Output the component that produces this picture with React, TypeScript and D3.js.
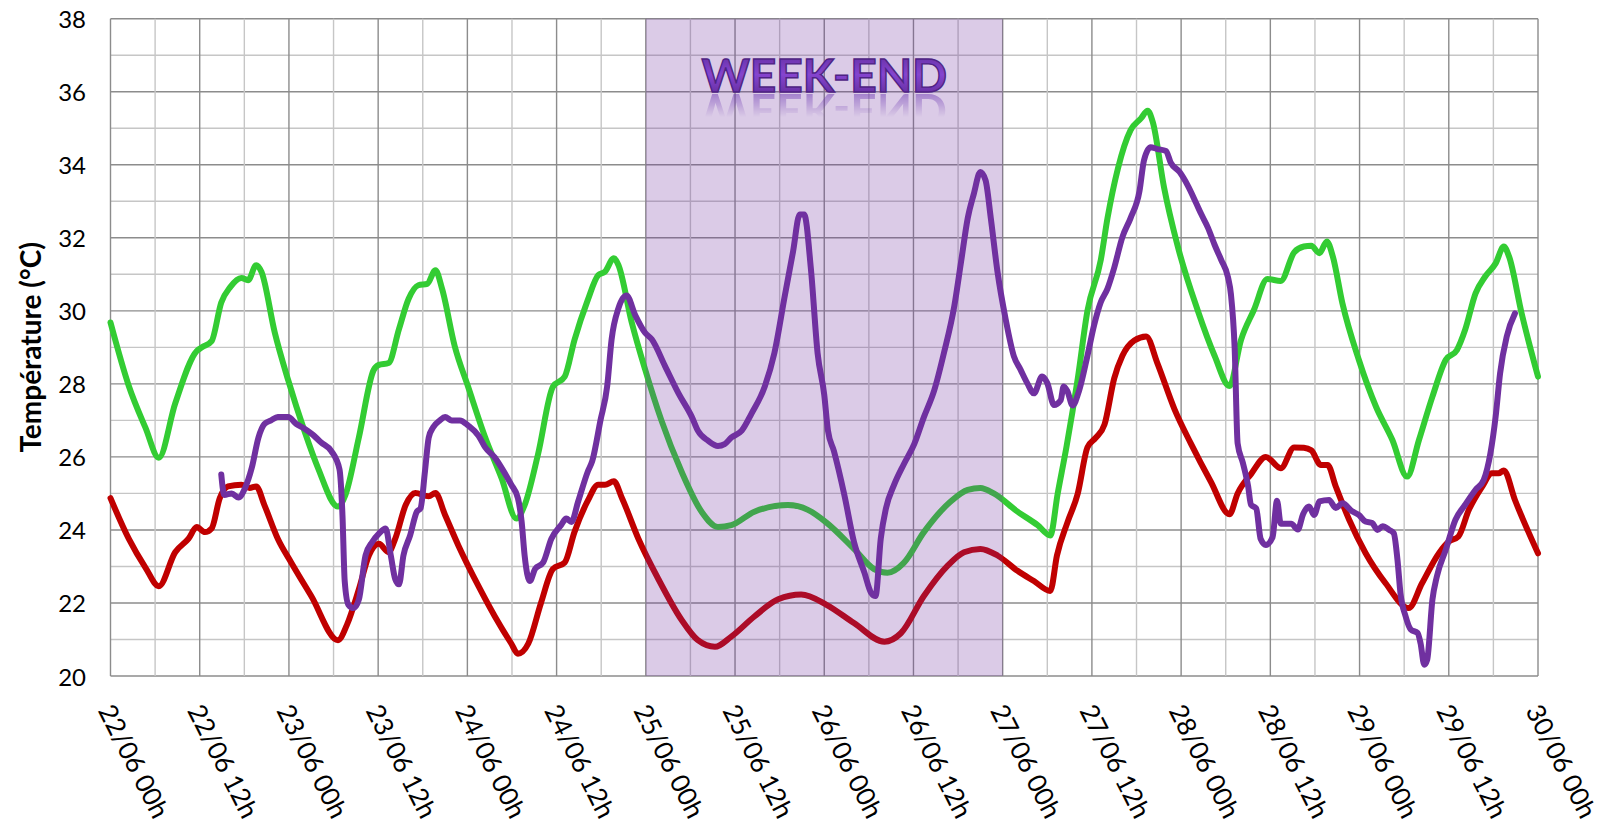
import React from "react";
import * as d3 from "d3";

// hours since 22/06 00h, temperature °C
const greenSeries: [number, number][] = [
  [0, 29.68], [2.45, 27.95], [4.7, 26.8], [6.5, 25.98], [8.7, 27.46], [11.6, 28.9], [12.3, 29.0], [13.6, 29.17],
  [14.9, 30.23], [16.1, 30.65], [17.6, 30.9], [18.5, 30.84], [19.6, 31.25], [20.3, 31.07], [22.1, 29.4], [23.9, 28.1],
  [26.1, 26.7], [27.9, 25.7], [30.6, 24.64], [31.6, 24.96], [33.4, 26.53], [35.4, 28.38], [36.1, 28.52], [37.4, 28.57],
  [38.8, 29.5], [40.1, 30.33], [41.4, 30.7], [42.6, 30.74], [43.7, 31.11], [44.6, 30.6], [46.3, 29.03], [48.1, 27.92],
  [50.4, 26.53], [52.6, 25.42], [54.6, 24.31], [55.7, 24.68], [57.5, 26.07], [59.5, 27.92], [61.1, 28.2], [62.4, 29.2],
  [64.2, 30.3], [65.6, 30.98], [66.5, 31.07], [67.7, 31.44], [68.3, 31.26], [70.1, 29.69], [71.9, 28.4], [74.1, 27.0],
  [76.8, 25.6], [79.5, 24.5], [81.7, 24.08], [83.5, 24.13], [86.6, 24.5], [91.1, 24.68], [93.8, 24.55], [96.3, 24.2],
  [100, 23.48], [102.7, 22.93], [104.5, 22.83], [106.7, 23.1], [109.4, 23.94], [113, 24.78], [115.3, 25.1], [117, 25.15],
  [118.8, 25.0], [122, 24.5], [124.7, 24.13], [126.4, 23.85], [127.4, 25.0], [128.6, 26.3], [130.1, 28.15], [131.4, 30.0],
  [133.2, 31.4], [134.1, 32.54], [135.5, 33.9], [137.2, 34.95], [138.6, 35.27], [139.5, 35.48], [140.2, 35.16],
  [141.7, 33.38], [143.5, 31.8], [146.2, 30.03], [148.5, 28.77], [150.5, 27.94], [152.05, 29.2], [153.8, 30.03],
  [155.6, 30.87], [157.4, 30.82], [159.2, 31.6], [160.5, 31.76], [161.5, 31.78], [162.6, 31.58], [163.6, 31.9],
  [164.4, 31.49], [165.7, 30.2], [167.9, 28.66], [170.2, 27.38], [172.4, 26.47], [174.4, 25.46], [176, 26.47],
  [177.8, 27.65], [179.6, 28.66], [181.1, 28.93], [182.2, 29.48], [183.6, 30.48], [184.9, 30.94], [186.3, 31.3],
  [187.4, 31.76], [188.1, 31.49], [189.8, 29.93], [192, 28.2],
];

const redSeries: [number, number][] = [
  [0, 24.87], [2.45, 23.76], [4.7, 22.97], [6.5, 22.46], [8.7, 23.39], [10.5, 23.76], [11.6, 24.08], [12.7, 23.94],
  [13.6, 24.04], [14.7, 24.87], [15.8, 25.19], [17.6, 25.24], [18.7, 25.15], [19.6, 25.19], [20.7, 24.68], [22.5, 23.76],
  [24.3, 23.11], [27.0, 22.19], [30.6, 20.98], [31.8, 21.4], [33.4, 22.37], [34.75, 23.3], [36.1, 23.62], [37.4, 23.39],
  [38.3, 23.76], [39.7, 24.68], [41, 25.01], [42.8, 24.92], [43.7, 25.01], [45, 24.41], [46.8, 23.57], [49.5, 22.46],
  [51.7, 21.63], [53.9, 20.89], [54.8, 20.61], [56.2, 20.89], [57.9, 22.0], [59.5, 22.93], [61.1, 23.11], [62.4, 23.94],
  [64.2, 24.8], [65.6, 25.24], [66.5, 25.24], [67.7, 25.33], [68.8, 24.87], [71, 23.76], [73.7, 22.65], [76.8, 21.54],
  [79, 20.98], [81.3, 20.8], [83.5, 21.08], [86.6, 21.63], [89.8, 22.1], [92.9, 22.23], [96.3, 21.95], [100, 21.45],
  [104.1, 20.94], [106.3, 21.17], [109.4, 22.19], [112.6, 23.02], [114.8, 23.39], [117, 23.48], [119.3, 23.3],
  [122, 22.88], [124.2, 22.6], [126.4, 22.33], [127.3, 23.3], [128.7, 24.2], [130.1, 25.0], [131.4, 26.26],
  [132.5, 26.52], [133.7, 26.89], [135, 28.15], [136.1, 28.77], [137.7, 29.19], [139.3, 29.3], [140.8, 28.57],
  [143.1, 27.31], [145.3, 26.37], [148, 25.32], [150.5, 24.43], [151.6, 25.0], [153.4, 25.53], [155.4, 26.0],
  [157.4, 25.69], [159.2, 26.26], [160.5, 26.25], [161.5, 26.18], [162.8, 25.78], [163.7, 25.78], [164.8, 25.19],
  [166.6, 24.28], [168.8, 23.37], [171.5, 22.54], [174.6, 21.86], [176.4, 22.54], [178.7, 23.37], [180, 23.68],
  [181.3, 23.82], [182.7, 24.55], [184.5, 25.19], [185.8, 25.55], [186.7, 25.55], [187.4, 25.63], [188.9, 24.82],
  [192, 23.36],
];

const purpleSeries: [number, number][] = [
  [14.9, 25.52], [15.3, 24.96], [16.3, 25.0], [17.2, 24.89], [18.1, 25.15], [19, 25.7], [19.9, 26.53], [20.7, 26.9],
  [21.6, 27.0], [22.5, 27.09], [23.9, 27.09], [25, 26.9], [26.1, 26.77], [27.2, 26.61], [28.3, 26.4], [29.7, 26.16],
  [30.8, 25.66], [31.2, 24.4], [31.5, 22.6], [32.0, 21.95], [32.7, 21.86], [33.4, 22.09], [34.3, 23.3], [35.2, 23.67],
  [36.1, 23.9], [37, 24.04], [37.7, 23.3], [38.3, 22.65], [38.8, 22.51], [39.4, 23.3], [40.3, 23.85], [41.2, 24.5],
  [41.7, 24.59], [42.3, 25.61], [42.8, 26.53], [43.4, 26.81], [44.3, 27.0], [45, 27.09], [45.9, 27.0], [47, 27.0],
  [48.1, 26.86], [49.5, 26.58], [50.4, 26.26], [51.7, 25.98], [52.6, 25.7], [53.9, 25.24], [54.8, 24.87], [55.3, 24.22],
  [55.7, 23.3], [56.4, 22.6], [57.1, 22.93], [58.2, 23.11], [59.3, 23.76], [60.6, 24.13], [61.3, 24.31], [62, 24.22],
  [62.9, 24.78], [64.2, 25.6], [64.8, 25.89], [65.9, 27.0], [66.8, 27.93], [67.4, 29.22], [68.3, 30.06], [69.4, 30.42],
  [70.6, 29.87], [71.9, 29.4], [72.8, 29.22], [74.6, 28.48], [76.4, 27.74], [78.2, 27.09], [79, 26.72], [80.4, 26.44],
  [81.7, 26.3], [82.6, 26.35], [83.5, 26.53], [84.9, 26.72], [86.2, 27.18], [88, 27.93], [89.3, 28.85], [90.7, 30.42],
  [91.8, 31.62], [92.7, 32.64], [93.3, 32.64], [94.2, 31.16], [95.1, 28.85], [96, 27.7], [96.5, 26.72], [97.3, 26.16],
  [98.7, 24.96], [100, 23.67], [101.4, 22.83], [102.3, 22.28], [102.9, 22.19], [103.6, 23.76], [104.3, 24.59],
  [105.4, 25.24], [106.7, 25.8], [108.1, 26.35], [109.4, 27.09], [110.8, 27.83], [112.1, 28.85], [113.5, 30.14],
  [114.4, 31.34], [115.3, 32.54], [116.1, 33.19], [117, 33.8], [117.7, 33.57], [118.4, 32.54], [119.3, 31.07],
  [120.4, 29.77], [121.5, 28.76], [122.4, 28.39], [123.3, 28.02], [124.2, 27.74], [125.3, 28.2], [126, 28.02],
  [126.9, 27.42], [127.8, 27.55], [128.2, 27.93], [128.7, 27.8], [129.4, 27.41], [130.3, 27.83], [131.4, 28.77],
  [132.3, 29.61], [133.2, 30.24], [134.1, 30.61], [135, 31.18], [136.1, 32.02], [137.2, 32.54], [138.4, 33.28],
  [139, 34.12], [139.9, 34.48], [140.8, 34.43], [141.96, 34.38], [142.6, 34.06], [143.8, 33.8], [144.9, 33.43],
  [146, 32.96], [146.7, 32.65], [147.6, 32.28], [148.5, 31.81], [149.4, 31.39], [150.3, 30.92], [150.7, 30.45],
  [151.2, 28.98], [151.6, 26.37], [152.3, 25.84], [153, 25.21], [153.4, 24.69], [154.1, 24.59], [154.7, 23.75],
  [155.4, 23.59], [156.3, 23.8], [156.9, 24.8], [157.4, 24.17], [158.8, 24.17], [159.7, 24.01], [160.4, 24.43],
  [161.2, 24.64], [161.9, 24.41], [162.6, 24.78], [163.9, 24.82], [164.8, 24.6], [165.7, 24.73], [167, 24.51],
  [167.9, 24.41], [168.8, 24.23], [169.7, 24.19], [170.4, 24.0], [171.1, 24.1], [172, 24.0], [172.6, 23.91],
  [173.1, 23.18], [173.5, 22.27], [174.2, 21.63], [174.9, 21.27], [175.8, 21.18], [176.2, 20.9], [176.7, 20.31],
  [177.1, 20.45], [177.8, 22.09], [178.4, 22.73], [179.6, 23.46], [180.9, 24.28], [182.2, 24.69], [183.6, 25.1],
  [184.7, 25.37], [185.6, 26.1], [186.3, 27.1], [186.9, 28.29], [187.8, 29.3], [188.9, 29.93],
];

const xTickHours = d3.range(0, 193, 12);
const xTickLabels = [
  "22/06 00h", "22/06 12h", "23/06 00h", "23/06 12h", "24/06 00h", "24/06 12h", "25/06 00h", "25/06 12h",
  "26/06 00h", "26/06 12h", "27/06 00h", "27/06 12h", "28/06 00h", "28/06 12h", "29/06 00h", "29/06 12h", "30/06 00h",
];
const yTicks = [20, 22, 24, 26, 28, 30, 32, 34, 36, 38];
const weekendStart = 72;
const weekendEnd = 120;
const yTitle = "Température (°C)";
const weekendLabel = "WEEK-END";

const FONT = "Lato, Carlito, Calibri, 'Open Sans', sans-serif";

export default function App() {
  const W = 1608, H = 829;
  const left = 110.5, right = 1538, top = 18.7, bottom = 676;
  const x = d3.scaleLinear().domain([0, 192]).range([left, right]);
  const y = d3.scaleLinear().domain([20, 38]).range([bottom, top]);

  const line = d3.line<[number, number]>()
    .x((d) => x(d[0]))
    .y((d) => y(d[1]))
    .curve(d3.curveMonotoneX);

  const vLines = d3.range(0, 193, 6);
  const hLines = d3.range(20, 39, 1);

  const wx0 = x(weekendStart), wx1 = x(weekendEnd);
  const wcx = (wx0 + wx1) / 2;
  const lw = 6;

  return (
    <svg width={W} height={H} style={{ position: "absolute", left: 0, top: 0, background: "#fff" }}>
      <defs>
        <linearGradient id="weGrad" x1="0" y1="0" x2="0" y2="1">
          <stop offset="0" stopColor="#5d2a98" />
          <stop offset="0.5" stopColor="#8544cf" />
          <stop offset="1" stopColor="#5a2790" />
        </linearGradient>
        <linearGradient id="reflGrad" x1="0" y1="0" x2="0" y2="1">
          <stop offset="0" stopColor="#fff" stopOpacity={0.5} />
          <stop offset="1" stopColor="#fff" stopOpacity={0} />
        </linearGradient>
        <mask id="reflMask" maskUnits="userSpaceOnUse" x={0} y={0} width={W} height={H}>
          <rect x={wx0} y={93} width={wx1 - wx0} height={24} fill="url(#reflGrad)" />
        </mask>
      </defs>

      {/* grid */}
      {hLines.map((v) => (
        <line key={"h" + v} x1={left} x2={right} y1={y(v)} y2={y(v)}
          stroke={v % 2 === 0 ? "#8c8c8c" : "#c6c6c6"} strokeWidth={1.4} />
      ))}
      {vLines.map((h) => (
        <line key={"v" + h} x1={x(h)} x2={x(h)} y1={top} y2={bottom}
          stroke={h % 12 === 0 ? "#8c8c8c" : "#c6c6c6"} strokeWidth={1.4} />
      ))}

      {/* series */}
      <path d={line(greenSeries) || ""} fill="none" stroke="#33cc33" strokeWidth={lw} strokeLinejoin="round" strokeLinecap="round" />
      <path d={line(redSeries) || ""} fill="none" stroke="#c00000" strokeWidth={lw} strokeLinejoin="round" strokeLinecap="round" />
      <path d={line(purpleSeries) || ""} fill="none" stroke="#7030a0" strokeWidth={lw} strokeLinejoin="round" strokeLinecap="round" />

      {/* week-end shade */}
      <rect x={wx0} y={top} width={wx1 - wx0} height={bottom - top} fill="#7030a0" fillOpacity={0.25} />

      {/* week-end label with reflection */}
      <g mask="url(#reflMask)">
        <g transform={`translate(${wcx},${186}) scale(1,-1)`}>
          <text x={0} y={92} textAnchor="middle" fontFamily={FONT} fontWeight={700} fontSize={46} fill="#6a34b0">
            {weekendLabel}
          </text>
        </g>
      </g>
      <text x={wcx} y={92} textAnchor="middle" fontFamily={FONT} fontWeight={700} fontSize={46}
        fill="url(#weGrad)" stroke="#4e2384" strokeWidth={1.4}>
        {weekendLabel}
      </text>

      {/* y tick labels */}
      {yTicks.map((v) => (
        <text key={"yt" + v} x={86} y={y(v)} textAnchor="end" dominantBaseline="central"
          fontFamily={FONT} fontSize={24} fill="#000">
          {v}
        </text>
      ))}

      {/* x tick labels */}
      {xTickHours.map((h, i) => (
        <text key={"xt" + h} transform={`translate(${x(h) - 4},${706}) rotate(63)`}
          textAnchor="start" dominantBaseline="central" fontFamily={FONT} fontSize={26} fill="#000">
          {xTickLabels[i]}
        </text>
      ))}

      {/* y title */}
      <text transform={`translate(${30},${(top + bottom) / 2}) rotate(-90)`} textAnchor="middle"
        dominantBaseline="central" fontFamily={FONT} fontWeight={700} fontSize={28} fill="#000">
        {yTitle}
      </text>
    </svg>
  );
}
